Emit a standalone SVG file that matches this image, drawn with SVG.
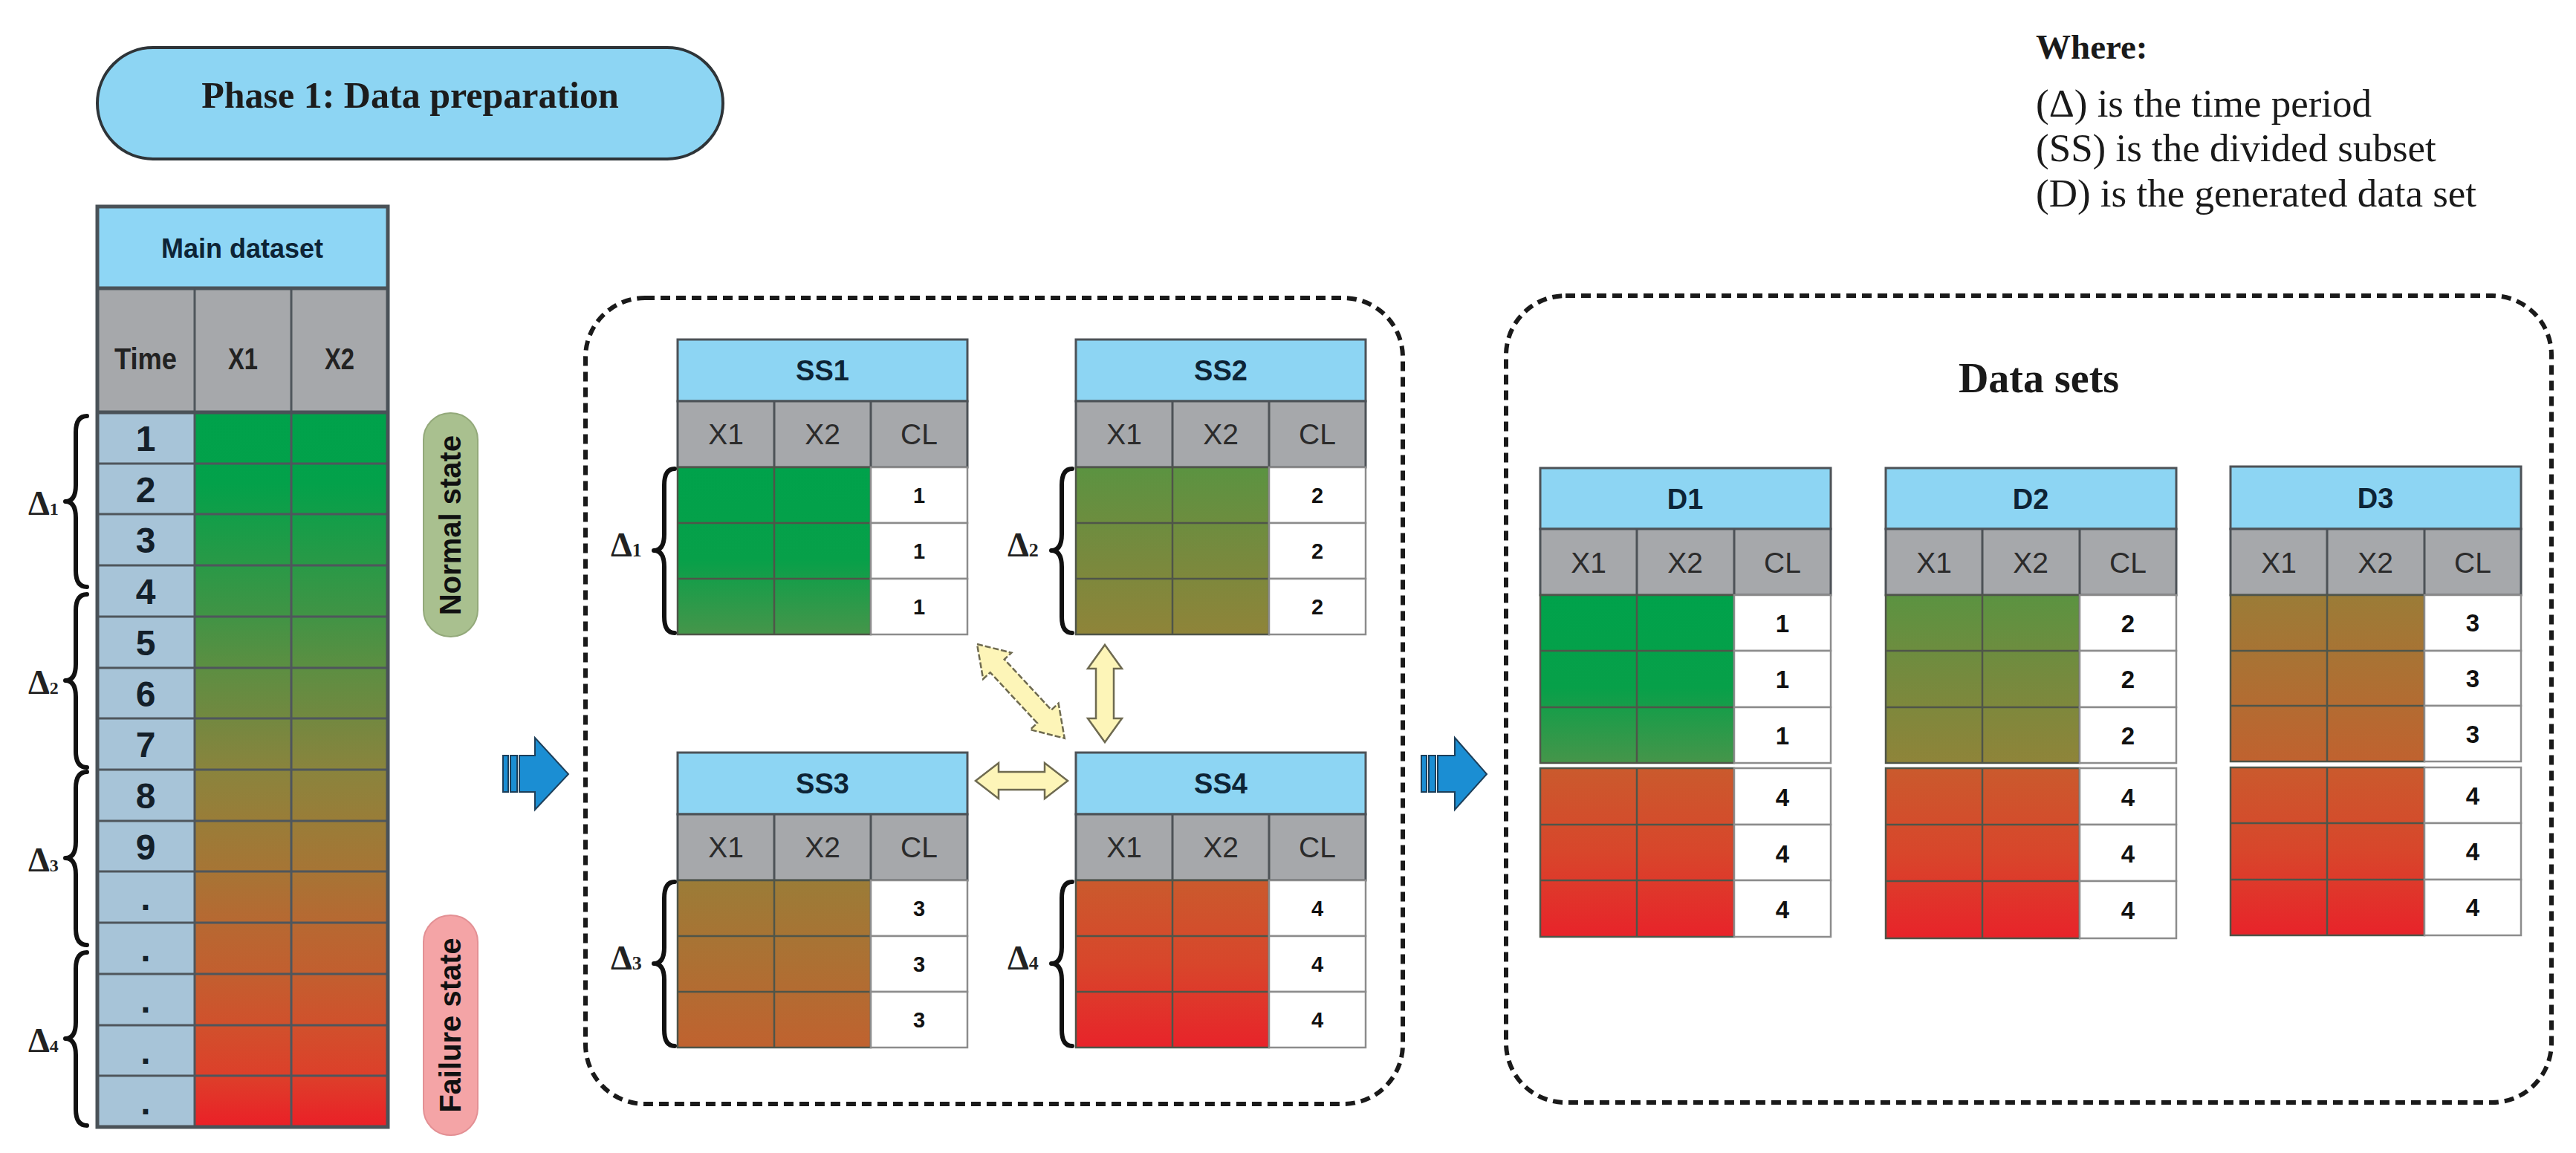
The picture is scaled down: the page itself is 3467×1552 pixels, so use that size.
<svg xmlns="http://www.w3.org/2000/svg" width="3467" height="1552" viewBox="0 0 3467 1552">
<defs>
<style>
.hdr{fill:#8dd5f3;stroke:#4d5257;stroke-width:3}
.gry{fill:#a6a8ab;stroke:#4d5257;stroke-width:3}
.cl{fill:#fff;stroke:#8c8c8c;stroke-width:2.5}
.gl{stroke:#4d5257;stroke-width:3;fill:none}
.gd{stroke:#4f5549;stroke-width:2.5;fill:none}
.ht{font-family:"Liberation Sans",Arial,sans-serif;font-weight:bold;font-size:38px;fill:#0d2436;text-anchor:middle}
.ct{font-family:"Liberation Sans",Arial,sans-serif;font-size:39px;fill:#2b2b2b;text-anchor:middle}
.nt{font-family:"Liberation Sans",Arial,sans-serif;font-weight:bold;font-size:29px;fill:#111;text-anchor:middle}
.ntd{font-family:"Liberation Sans",Arial,sans-serif;font-weight:bold;font-size:33px;fill:#111;text-anchor:middle}
.mt{font-family:"Liberation Sans",Arial,sans-serif;font-weight:bold;font-size:48px;fill:#14202a;text-anchor:middle}
.brace{fill:none;stroke:#111;stroke-width:6;stroke-linecap:round;stroke-linejoin:round}
.dl{font-family:"Liberation Serif","Times New Roman",serif;font-weight:bold;font-size:46px;fill:#222}
.sv{font-family:"Liberation Serif","Times New Roman",serif;font-size:53px;fill:#1a1a1a}
.dash{fill:none;stroke:#1a1a1a;stroke-width:6;stroke-dasharray:13 8}
.blue{fill:#1b8ed3;stroke:#1d3f5a;stroke-width:2}
.yel{fill:#fdf5b8;stroke:#6e6a50;stroke-width:2.5;stroke-linejoin:miter}
</style>
<linearGradient id="gMain" gradientUnits="userSpaceOnUse" x1="0" y1="555" x2="0" y2="1517">
<stop offset="0" stop-color="#00a24b"/>
<stop offset="0.1" stop-color="#03a14a"/>
<stop offset="0.2" stop-color="#259a47"/>
<stop offset="0.28" stop-color="#3f9445"/>
<stop offset="0.35" stop-color="#5a8f42"/>
<stop offset="0.43" stop-color="#738840"/>
<stop offset="0.5" stop-color="#8a843d"/>
<stop offset="0.57" stop-color="#997d38"/>
<stop offset="0.64" stop-color="#a67535"/>
<stop offset="0.71" stop-color="#b66932"/>
<stop offset="0.79" stop-color="#c35e2f"/>
<stop offset="0.86" stop-color="#d1502c"/>
<stop offset="0.93" stop-color="#dd3f2a"/>
<stop offset="1" stop-color="#eb1f27"/>
</linearGradient>
<linearGradient id="g1" x1="0" y1="0" x2="0" y2="1"><stop offset="0" stop-color="#00a24b"/><stop offset="0.55" stop-color="#07a049"/><stop offset="1" stop-color="#46954a"/></linearGradient>
<linearGradient id="g2" x1="0" y1="0" x2="0" y2="1"><stop offset="0" stop-color="#5b9341"/><stop offset="0.5" stop-color="#768a3e"/><stop offset="1" stop-color="#8f8439"/></linearGradient>
<linearGradient id="g3" x1="0" y1="0" x2="0" y2="1"><stop offset="0" stop-color="#9b7c37"/><stop offset="0.5" stop-color="#ad7033"/><stop offset="1" stop-color="#c0622f"/></linearGradient>
<linearGradient id="g4" x1="0" y1="0" x2="0" y2="1"><stop offset="0" stop-color="#ca5a2d"/><stop offset="0.5" stop-color="#d8462b"/><stop offset="1" stop-color="#e8232a"/></linearGradient>
</defs>
<rect width="3467" height="1552" fill="#fff"/>

<g id="phase-title">
<rect x="131" y="64" width="842" height="150" rx="75" fill="#8dd5f3" stroke="#2e3438" stroke-width="4"/>
<text x="552" y="145" font-family="Liberation Serif, Times New Roman, serif" font-weight="bold" font-size="50" fill="#1c1c1c" text-anchor="middle">Phase 1: Data preparation</text>
</g>

<g id="legend">
<text x="2740" y="79" font-family="Liberation Serif, Times New Roman, serif" font-weight="bold" font-size="47" fill="#1a1a1a">Where:</text>
<text class="sv" x="2740" y="157">(Δ) is the time period</text>
<text class="sv" x="2740" y="217">(SS) is the divided subset</text>
<text class="sv" x="2740" y="278">(D) is the generated data set</text>
</g>

<g id="main-dataset">
<rect x="131" y="278" width="391" height="110" fill="#8ed6f5"/>
<text x="326" y="347" font-family="Liberation Sans, Arial, sans-serif" font-weight="bold" font-size="36" fill="#0d2436" text-anchor="middle">Main dataset</text>
<rect x="131" y="388" width="391" height="167" fill="#a6a8ab"/>
<text x="196" y="497" font-family="Liberation Sans, Arial, sans-serif" font-weight="bold" font-size="41" fill="#222" text-anchor="middle" textLength="84" lengthAdjust="spacingAndGlyphs">Time</text>
<text x="327" y="497" font-family="Liberation Sans, Arial, sans-serif" font-weight="bold" font-size="41" fill="#222" text-anchor="middle" textLength="40" lengthAdjust="spacingAndGlyphs">X1</text>
<text x="457" y="497" font-family="Liberation Sans, Arial, sans-serif" font-weight="bold" font-size="41" fill="#222" text-anchor="middle" textLength="40" lengthAdjust="spacingAndGlyphs">X2</text>
<rect x="131" y="555" width="131" height="962" fill="#a7c4d8"/>
<rect x="262" y="555" width="260" height="962" fill="url(#gMain)"/>
<path d="M262,388V1517M392,388V1517M131,624H522M131,692H522M131,761H522M131,830H522M131,899H522M131,967H522M131,1036H522M131,1105H522M131,1173H522M131,1242H522M131,1311H522M131,1380H522M131,1448H522" stroke="#4f565c" stroke-width="3" fill="none"/>
<path d="M131,388H522M131,555H522" stroke="#4a5258" stroke-width="5" fill="none"/>
<rect x="131" y="278" width="391" height="1239" fill="none" stroke="#4a5258" stroke-width="5"/>
<text class="mt" x="196" y="607">1</text>
<text class="mt" x="196" y="676">2</text>
<text class="mt" x="196" y="744">3</text>
<text class="mt" x="196" y="813">4</text>
<text class="mt" x="196" y="882">5</text>
<text class="mt" x="196" y="951">6</text>
<text class="mt" x="196" y="1019">7</text>
<text class="mt" x="196" y="1088">8</text>
<text class="mt" x="196" y="1157">9</text>
<text class="mt" x="196" y="1225">.</text>
<text class="mt" x="196" y="1294">.</text>
<text class="mt" x="196" y="1363">.</text>
<text class="mt" x="196" y="1432">.</text>
<text class="mt" x="196" y="1500">.</text>
</g>

<g id="main-periods">
<path class="brace" d="M117,560 Q102,560 102,582 L102,653 Q102,675 88,675 Q102,675 102,697 L102,768 Q102,790 117,790"/>
<path class="brace" d="M117,800 Q102,800 102,822 L102,894 Q102,916 88,916 Q102,916 102,938 L102,1011 Q102,1033 117,1033"/>
<path class="brace" d="M117,1039 Q102,1039 102,1061 L102,1133 Q102,1155 88,1155 Q102,1155 102,1177 L102,1250 Q102,1272 117,1272"/>
<path class="brace" d="M117,1282 Q102,1282 102,1304 L102,1376 Q102,1398 88,1398 Q102,1398 102,1420 L102,1493 Q102,1515 117,1515"/>
<text class="dl" x="38" y="693">Δ<tspan font-size="24">1</tspan></text>
<text class="dl" x="38" y="934">Δ<tspan font-size="24">2</tspan></text>
<text class="dl" x="38" y="1173">Δ<tspan font-size="24">3</tspan></text>
<text class="dl" x="38" y="1416">Δ<tspan font-size="24">4</tspan></text>
</g>

<g id="normal-state">
<rect x="570" y="556" width="73" height="301" rx="36" fill="#a9c08f" stroke="#93a97a" stroke-width="2"/>
<text transform="translate(606,707) rotate(-90)" x="0" y="14" font-family="Liberation Sans, Arial, sans-serif" font-weight="bold" font-size="40" fill="#111" text-anchor="middle">Normal state</text>
</g>
<g id="failure-state">
<rect x="570" y="1232" width="73" height="296" rx="36" fill="#f4a4a6" stroke="#e39094" stroke-width="2"/>
<text transform="translate(606,1380) rotate(-90)" x="0" y="14" font-family="Liberation Sans, Arial, sans-serif" font-weight="bold" font-size="40" fill="#111" text-anchor="middle">Failure state</text>
</g>

<g id="subsets-box">
<rect class="dash" x="788" y="401" width="1100" height="1085" rx="80"/>
</g>

<g id="ss1">
<rect class="hdr" x="912" y="457" width="390" height="83"/>
<text class="ht" x="1107" y="512">SS1</text>
<rect class="gry" x="912" y="540" width="390" height="89"/>
<path class="gl" d="M1042,540V629M1172,540V629"/>
<text class="ct" x="977" y="598">X1</text><text class="ct" x="1107" y="598">X2</text><text class="ct" x="1237" y="598">CL</text>
<rect x="912" y="629" width="260" height="225" fill="url(#g1)"/>
<path class="gd" d="M912,629H1172V854H912ZM1042,629V854M912,704H1172M912,779H1172"/>
<rect class="cl" x="1172" y="629" width="130" height="75"/><rect class="cl" x="1172" y="704" width="130" height="75"/><rect class="cl" x="1172" y="779" width="130" height="75"/>
<text class="nt" x="1237" y="677">1</text><text class="nt" x="1237" y="752">1</text><text class="nt" x="1237" y="827">1</text>
<path class="brace" d="M908,631 Q894,631 894,653 L894,719 Q894,741 880,741 Q894,741 894,763 L894,830 Q894,852 908,852"/>
<text class="dl" x="822" y="749" font-size="44">Δ<tspan font-size="26">1</tspan></text>
</g>

<g id="ss2">
<rect class="hdr" x="1448" y="457" width="390" height="83"/>
<text class="ht" x="1643" y="512">SS2</text>
<rect class="gry" x="1448" y="540" width="390" height="89"/>
<path class="gl" d="M1578,540V629M1708,540V629"/>
<text class="ct" x="1513" y="598">X1</text><text class="ct" x="1643" y="598">X2</text><text class="ct" x="1773" y="598">CL</text>
<rect x="1448" y="629" width="260" height="225" fill="url(#g2)"/>
<path class="gd" d="M1448,629H1708V854H1448ZM1578,629V854M1448,704H1708M1448,779H1708"/>
<rect class="cl" x="1708" y="629" width="130" height="75"/><rect class="cl" x="1708" y="704" width="130" height="75"/><rect class="cl" x="1708" y="779" width="130" height="75"/>
<text class="nt" x="1773" y="677">2</text><text class="nt" x="1773" y="752">2</text><text class="nt" x="1773" y="827">2</text>
<path class="brace" d="M1443,631 Q1429,631 1429,653 L1429,719 Q1429,741 1415,741 Q1429,741 1429,763 L1429,830 Q1429,852 1443,852"/>
<text class="dl" x="1356" y="749" font-size="44">Δ<tspan font-size="26">2</tspan></text>
</g>

<g id="ss3">
<rect class="hdr" x="912" y="1013" width="390" height="83"/>
<text class="ht" x="1107" y="1068">SS3</text>
<rect class="gry" x="912" y="1096" width="390" height="89"/>
<path class="gl" d="M1042,1096V1185M1172,1096V1185"/>
<text class="ct" x="977" y="1154">X1</text><text class="ct" x="1107" y="1154">X2</text><text class="ct" x="1237" y="1154">CL</text>
<rect x="912" y="1185" width="260" height="225" fill="url(#g3)"/>
<path class="gd" d="M912,1185H1172V1410H912ZM1042,1185V1410M912,1260H1172M912,1335H1172"/>
<rect class="cl" x="1172" y="1185" width="130" height="75"/><rect class="cl" x="1172" y="1260" width="130" height="75"/><rect class="cl" x="1172" y="1335" width="130" height="75"/>
<text class="nt" x="1237" y="1233">3</text><text class="nt" x="1237" y="1308">3</text><text class="nt" x="1237" y="1383">3</text>
<path class="brace" d="M908,1187 Q894,1187 894,1209 L894,1275 Q894,1297 880,1297 Q894,1297 894,1319 L894,1386 Q894,1408 908,1408"/>
<text class="dl" x="822" y="1305" font-size="44">Δ<tspan font-size="26">3</tspan></text>
</g>

<g id="ss4">
<rect class="hdr" x="1448" y="1013" width="390" height="83"/>
<text class="ht" x="1643" y="1068">SS4</text>
<rect class="gry" x="1448" y="1096" width="390" height="89"/>
<path class="gl" d="M1578,1096V1185M1708,1096V1185"/>
<text class="ct" x="1513" y="1154">X1</text><text class="ct" x="1643" y="1154">X2</text><text class="ct" x="1773" y="1154">CL</text>
<rect x="1448" y="1185" width="260" height="225" fill="url(#g4)"/>
<path class="gd" d="M1448,1185H1708V1410H1448ZM1578,1185V1410M1448,1260H1708M1448,1335H1708"/>
<rect class="cl" x="1708" y="1185" width="130" height="75"/><rect class="cl" x="1708" y="1260" width="130" height="75"/><rect class="cl" x="1708" y="1335" width="130" height="75"/>
<text class="nt" x="1773" y="1233">4</text><text class="nt" x="1773" y="1308">4</text><text class="nt" x="1773" y="1383">4</text>
<path class="brace" d="M1443,1187 Q1429,1187 1429,1209 L1429,1275 Q1429,1297 1415,1297 Q1429,1297 1429,1319 L1429,1386 Q1429,1408 1443,1408"/>
<text class="dl" x="1356" y="1305" font-size="44">Δ<tspan font-size="26">4</tspan></text>
</g>

<g id="datasets-box">
<rect class="dash" x="2027" y="398" width="1407" height="1086" rx="80"/>
<text x="2744" y="528" font-family="Liberation Serif, Times New Roman, serif" font-weight="bold" font-size="56" fill="#1a1a1a" text-anchor="middle">Data sets</text>
</g>

<g id="d1">
<rect class="hdr" x="2073" y="630" width="391" height="82"/>
<text class="ht" x="2268" y="685">D1</text>
<rect class="gry" x="2073" y="712" width="391" height="89"/>
<path class="gl" d="M2203,712V801M2334,712V801"/>
<text class="ct" x="2138" y="771">X1</text><text class="ct" x="2268" y="771">X2</text><text class="ct" x="2399" y="771">CL</text>
<rect x="2073" y="801" width="261" height="226" fill="url(#g1)"/>
<path class="gd" d="M2073,801H2334V1027H2073ZM2203,801V1027M2073,876H2334M2073,952H2334"/>
<rect class="cl" x="2334" y="801" width="130" height="75"/><rect class="cl" x="2334" y="876" width="130" height="76"/><rect class="cl" x="2334" y="952" width="130" height="75"/>
<text class="ntd" x="2399" y="851">1</text><text class="ntd" x="2399" y="926">1</text><text class="ntd" x="2399" y="1002">1</text>
<rect x="2073" y="1034" width="261" height="227" fill="url(#g4)"/>
<path class="gd" d="M2073,1034H2334V1261H2073ZM2203,1034V1261M2073,1110H2334M2073,1185H2334"/>
<rect class="cl" x="2334" y="1034" width="130" height="76"/><rect class="cl" x="2334" y="1110" width="130" height="75"/><rect class="cl" x="2334" y="1185" width="130" height="76"/>
<text class="ntd" x="2399" y="1085">4</text><text class="ntd" x="2399" y="1161">4</text><text class="ntd" x="2399" y="1236">4</text>
</g>

<g id="d2">
<rect class="hdr" x="2538" y="630" width="391" height="82"/>
<text class="ht" x="2733" y="685">D2</text>
<rect class="gry" x="2538" y="712" width="391" height="89"/>
<path class="gl" d="M2668,712V801M2799,712V801"/>
<text class="ct" x="2603" y="771">X1</text><text class="ct" x="2733" y="771">X2</text><text class="ct" x="2864" y="771">CL</text>
<rect x="2538" y="801" width="261" height="226" fill="url(#g2)"/>
<path class="gd" d="M2538,801H2799V1027H2538ZM2668,801V1027M2538,876H2799M2538,952H2799"/>
<rect class="cl" x="2799" y="801" width="130" height="75"/><rect class="cl" x="2799" y="876" width="130" height="76"/><rect class="cl" x="2799" y="952" width="130" height="75"/>
<text class="ntd" x="2864" y="851">2</text><text class="ntd" x="2864" y="926">2</text><text class="ntd" x="2864" y="1002">2</text>
<rect x="2538" y="1034" width="261" height="229" fill="url(#g4)"/>
<path class="gd" d="M2538,1034H2799V1263H2538ZM2668,1034V1263M2538,1110H2799M2538,1186H2799"/>
<rect class="cl" x="2799" y="1034" width="130" height="76"/><rect class="cl" x="2799" y="1110" width="130" height="76"/><rect class="cl" x="2799" y="1186" width="130" height="77"/>
<text class="ntd" x="2864" y="1085">4</text><text class="ntd" x="2864" y="1161">4</text><text class="ntd" x="2864" y="1237">4</text>
</g>

<g id="d3">
<rect class="hdr" x="3002" y="628" width="391" height="84"/>
<text class="ht" x="3197" y="684">D3</text>
<rect class="gry" x="3002" y="712" width="391" height="89"/>
<path class="gl" d="M3132,712V801M3263,712V801"/>
<text class="ct" x="3067" y="771">X1</text><text class="ct" x="3197" y="771">X2</text><text class="ct" x="3328" y="771">CL</text>
<rect x="3002" y="801" width="261" height="224" fill="url(#g3)"/>
<path class="gd" d="M3002,801H3263V1025H3002ZM3132,801V1025M3002,876H3263M3002,950H3263"/>
<rect class="cl" x="3263" y="801" width="130" height="75"/><rect class="cl" x="3263" y="876" width="130" height="74"/><rect class="cl" x="3263" y="950" width="130" height="75"/>
<text class="ntd" x="3328" y="850">3</text><text class="ntd" x="3328" y="925">3</text><text class="ntd" x="3328" y="1000">3</text>
<rect x="3002" y="1033" width="261" height="226" fill="url(#g4)"/>
<path class="gd" d="M3002,1033H3263V1259H3002ZM3132,1033V1259M3002,1108H3263M3002,1184H3263"/>
<rect class="cl" x="3263" y="1033" width="130" height="75"/><rect class="cl" x="3263" y="1108" width="130" height="76"/><rect class="cl" x="3263" y="1184" width="130" height="75"/>
<text class="ntd" x="3328" y="1083">4</text><text class="ntd" x="3328" y="1158">4</text><text class="ntd" x="3328" y="1233">4</text>
</g>

<g id="connectors">
<g id="arrow-main-to-subsets">
<rect class="blue" x="677" y="1017" width="7" height="49"/>
<rect class="blue" x="687" y="1017" width="9" height="49"/>
<path class="blue" d="M699,1017 L720,1017 L720,993 L765,1042 L720,1090 L720,1066 L699,1066 Z"/>
</g>
<g id="arrow-subsets-to-datasets">
<rect class="blue" x="1913" y="1017" width="7" height="49"/>
<rect class="blue" x="1923" y="1017" width="9" height="49"/>
<path class="blue" d="M1935,1017 L1958,1017 L1958,993 L2001,1042 L1958,1090 L1958,1066 L1935,1066 Z"/>
</g>
<polygon id="ss1-ss4" class="yel" stroke-dasharray="8 3" transform="translate(1315,867) rotate(47.1)" points="0,0 40,-26 40,-13 133,-13 133,-26 173,0 133,26 133,13 40,13 40,26"/>
<polygon id="ss2-ss4" class="yel" transform="translate(1487,868) rotate(90)" points="0,0 32,-23 32,-12 99,-12 99,-23 131,0 99,23 99,12 32,12 32,23"/>
<polygon id="ss3-ss4" class="yel" transform="translate(1313,1051)" points="0,0 31,-24 31,-12 93,-12 93,-24 124,0 93,24 93,12 31,12 31,24"/>
</g>
</svg>
